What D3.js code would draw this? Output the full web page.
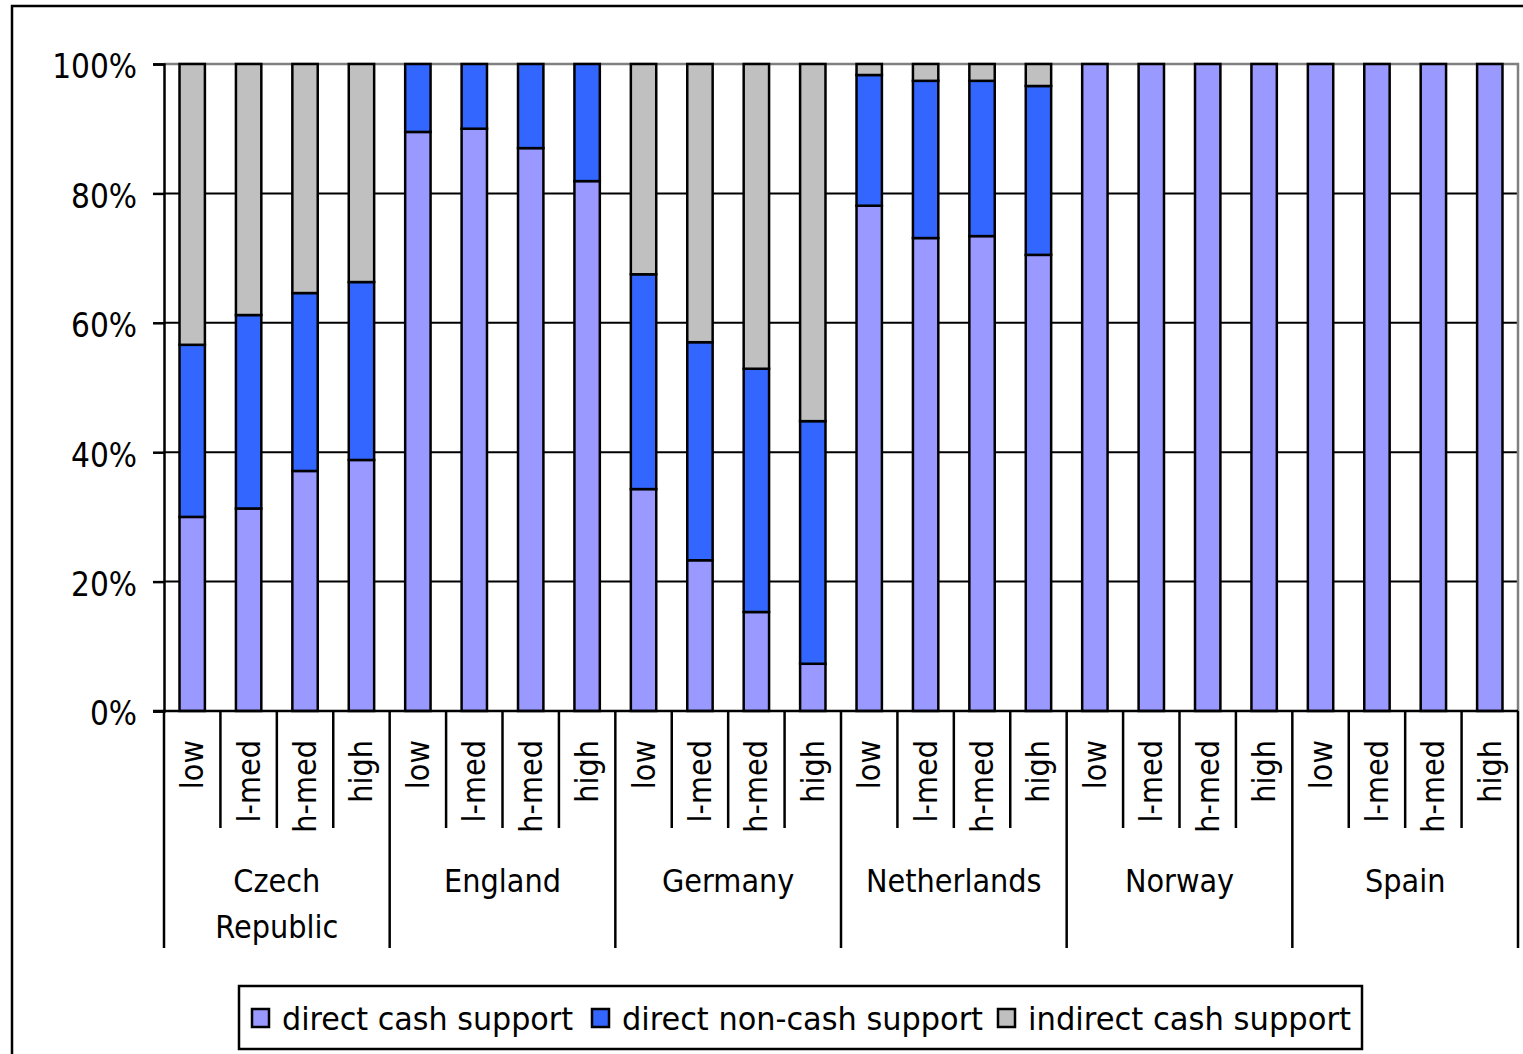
<!DOCTYPE html>
<html>
<head>
<meta charset="utf-8">
<title>Support by income level</title>
<style>
  body { margin: 0; background: #fff; }
  svg text { font-family: "DejaVu Sans Condensed", "DejaVu Sans", sans-serif; fill: #000; }
</style>
</head>
<body>
<div id="chart"></div>
<script src="https://d3js.org/d3.v7.min.js"></script>
<script>
const countries = ["Czech Republic", "England", "Germany", "Netherlands", "Norway", "Spain"];
const levels = ["low", "l-med", "h-med", "high"];
const seriesNames = ["direct cash support", "direct non-cash support", "indirect cash support"];

// percent shares, in order: country x level
const directCash = [30.0, 31.3, 37.1, 38.8, 89.5, 90.0, 87.0, 81.9, 34.3, 23.3, 15.3, 7.3,
                    78.1, 73.1, 73.4, 70.5, 100, 100, 100, 100, 100, 100, 100, 100];
const directNonCash = [26.6, 29.9, 27.5, 27.5, 10.5, 10.0, 13.0, 18.1, 33.2, 33.7, 37.6, 37.5,
                       20.2, 24.3, 24.0, 26.1, 0, 0, 0, 0, 0, 0, 0, 0];
const indirectCash = [43.4, 38.8, 35.4, 33.7, 0, 0, 0, 0, 32.5, 43.0, 47.1, 55.2,
                      1.7, 2.6, 2.6, 3.4, 0, 0, 0, 0, 0, 0, 0, 0];
const yTicks = [0, 20, 40, 60, 80, 100];

const colors = ["#9999ff", "#3366ff", "#c0c0c0"];

const W = 1523, H = 1054;
const plot = { left: 164, right: 1518, top: 64, bottom: 711 };

const rows = [];
countries.forEach((c, ci) => levels.forEach((l, li) => {
  const i = ci * 4 + li;
  rows.push({ key: c + "|" + l, country: c, level: l,
    s0: directCash[i], s1: directNonCash[i], s2: indirectCash[i] });
}));

const svg = d3.select("#chart").append("svg")
  .attr("width", W).attr("height", H);

// outer chart border (runs past the window edge)
svg.append("rect")
  .attr("x", 12).attr("y", 6)
  .attr("width", W + 20).attr("height", H + 20)
  .attr("fill", "none").attr("stroke", "#000").attr("stroke-width", 2.5);

const x = d3.scaleBand()
  .domain(rows.map(d => d.key))
  .range([plot.left, plot.right])
  .paddingInner(0.55).paddingOuter(0.275);

const y = d3.scaleLinear().domain([0, 100]).range([plot.bottom, plot.top]);

// gridlines
svg.append("g")
  .selectAll("line")
  .data(yTicks.filter(t => t > 0 && t < 100))
  .join("line")
  .attr("x1", plot.left).attr("x2", plot.right)
  .attr("y1", d => y(d)).attr("y2", d => y(d))
  .attr("stroke", "#000").attr("stroke-width", 2);

// plot area top/right border (grey)
svg.append("path")
  .attr("d", `M${plot.left},${y(100)}H${plot.right}V${y(0)}`)
  .attr("fill", "none").attr("stroke", "#808080").attr("stroke-width", 2.5);

// stacked bars
const stack = d3.stack().keys(["s0", "s1", "s2"]);
const layers = stack(rows);

svg.append("g")
  .selectAll("g")
  .data(layers)
  .join("g")
  .attr("fill", (d, i) => colors[i])
  .selectAll("rect")
  .data(d => d.filter(p => p[1] - p[0] > 0))
  .join("rect")
  .attr("x", d => x(d.data.key))
  .attr("width", x.bandwidth())
  .attr("y", d => y(d[1]))
  .attr("height", d => y(d[0]) - y(d[1]))
  .attr("stroke", "#000").attr("stroke-width", 2.5);

// y axis
const yAxis = svg.append("g")
  .attr("transform", `translate(${plot.left},0)`)
  .call(d3.axisLeft(y).tickValues(yTicks).tickFormat(d => d + "%").tickSize(11).tickPadding(16));
yAxis.select(".domain").attr("stroke", "#000").attr("stroke-width", 2.5);
yAxis.selectAll(".tick line").attr("stroke", "#000").attr("stroke-width", 2.5);
yAxis.selectAll(".tick text")
  .attr("font-size", 33)
  .attr("dy", "0.42em")
  .attr("font-family", '"DejaVu Sans Condensed", "DejaVu Sans", sans-serif');

// x baseline
svg.append("line")
  .attr("x1", plot.left - 11).attr("x2", plot.right)
  .attr("y1", y(0)).attr("y2", y(0))
  .attr("stroke", "#000").attr("stroke-width", 2.5);

// level separators and labels
const step = x.step();
const sepShort = 828, sepLong = 948;
const seps = d3.range(rows.length + 1).map(i => ({
  xPos: plot.left + i * step,
  long: i % 4 === 0
}));
svg.append("g")
  .selectAll("line")
  .data(seps)
  .join("line")
  .attr("x1", d => d.xPos).attr("x2", d => d.xPos)
  .attr("y1", y(0)).attr("y2", d => d.long ? sepLong : sepShort)
  .attr("stroke", "#000").attr("stroke-width", 2.5);

svg.append("g")
  .selectAll("text")
  .data(rows)
  .join("text")
  .attr("transform", d => `translate(${x(d.key) + x.bandwidth() / 2 + 11},740) rotate(-90)`)
  .attr("text-anchor", "end")
  .attr("font-size", 32)
  .text(d => d.level);

// country labels
svg.append("g")
  .selectAll("text")
  .data(countries)
  .join("text")
  .attr("x", (d, i) => plot.left + (i * 4 + 2) * step)
  .attr("y", 892)
  .attr("text-anchor", "middle")
  .attr("font-size", 32)
  .each(function (d) {
    const words = d === "Czech Republic" ? ["Czech", "Republic"] : [d];
    d3.select(this).selectAll("tspan")
      .data(words)
      .join("tspan")
      .attr("x", d3.select(this).attr("x"))
      .attr("dy", (w, j) => j === 0 ? 0 : 46)
      .text(w => w);
  });

// legend
const legend = svg.append("g");
legend.append("rect")
  .attr("x", 239).attr("y", 986)
  .attr("width", 1123).attr("height", 63)
  .attr("fill", "#fff").attr("stroke", "#000").attr("stroke-width", 2.5);
const legendX = [252, 592, 998];
const legendTextW = [291, 361, 323];
seriesNames.forEach((name, i) => {
  legend.append("rect")
    .attr("x", legendX[i]).attr("y", 1009)
    .attr("width", 17).attr("height", 18)
    .attr("fill", colors[i]).attr("stroke", "#000").attr("stroke-width", 2.5);
  legend.append("text")
    .attr("x", legendX[i] + 30).attr("y", 1030)
    .attr("font-size", 32)
    .attr("textLength", legendTextW[i])
    .attr("lengthAdjust", "spacingAndGlyphs")
    .text(name);
});
</script>
</body>
</html>
